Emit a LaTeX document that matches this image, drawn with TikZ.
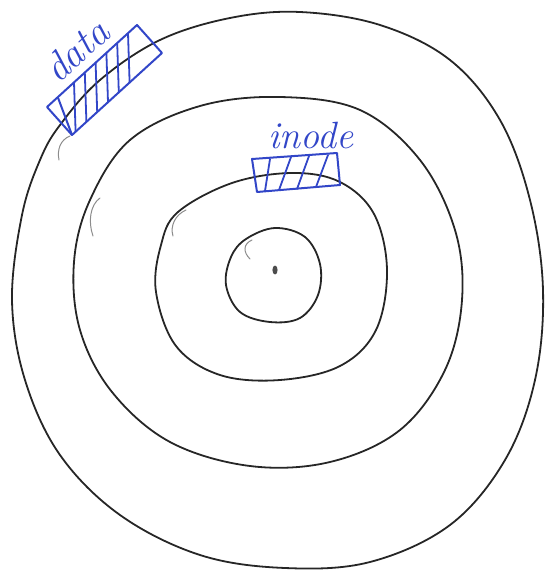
\documentclass[tikz,border=0pt]{standalone}
\usetikzlibrary{calc}
\definecolor{pen}{RGB}{50,70,200}
\tikzset{
  ring/.style={draw=black!85, line width=1.8pt, line join=round},
  hook/.style={draw=black!45, line width=1pt, line cap=round},
  bluebox/.style={draw=pen, line width=2pt, line join=round},
  hatch/.style={draw=pen, line width=1.8pt, line cap=round},
  label/.style={text=pen, font=\fontsize{40}{42}\selectfont\itshape, inner sep=0pt}
}
\begin{document}
\begin{tikzpicture}[x=1pt,y=-1pt]
\useasboundingbox (0,0) rectangle (553,575);
% outer ring
\draw[ring] plot[smooth cycle, tension=0.6] coordinates {
 (60,125) (100,80) (160,40) (230,18) (300,12) (380,25) (450,60) (500,120)
 (530,200) (543,290) (535,380) (505,460) (450,525) (370,562) (285,568)
 (200,555) (120,515) (60,455) (25,380) (12,300) (22,215) (40,160)};
% second ring
\draw[ring] plot[smooth cycle, tension=0.6] coordinates {
 (90,200) (130,140) (200,106) (280,97) (360,110) (420,160) (455,230)
 (462,300) (445,370) (400,430) (330,462) (250,466) (170,442) (112,392)
 (80,330) (74,262)};
% third ring
\draw[ring] plot[smooth cycle, tension=0.6] coordinates {
 (178,212) (232,183) (292,173) (340,182) (374,214) (387,270) (376,330)
 (340,366) (280,380) (220,375) (176,346) (156,292) (161,245)};
% inner ring
\draw[ring] plot[smooth cycle, tension=0.6] coordinates {
 (246,239) (275,228) (305,237) (320,264) (318,295) (300,318) (270,322)
 (240,312) (226,285) (231,257)};
% centre spindle
\fill[black!70] (275,270) ellipse (2.6 and 4.5);
% small hooks
\draw[hook] (70,136) .. controls (60,140) and (57,150) .. (59,160);
\draw[hook] (100,198) .. controls (90,205) and (88,222) .. (93,236);
\draw[hook] (186,210) .. controls (175,215) and (170,226) .. (173,236);
\draw[hook] (252,240) .. controls (243,244) and (243,252) .. (250,259);
% data block
\coordinate (dA) at (47,107);
\coordinate (dB) at (137,25);
\coordinate (dC) at (162,53);
\coordinate (dD) at (72,135);
\draw[bluebox] (dA) -- (dB) -- (dC) -- (dD) -- cycle;
\draw[bluebox] ($(dA)!0.12!(dB)$) -- ($(dD)!0.0!(dC)$);
\foreach \t in {0.30,0.42,0.54,0.66,0.78,0.90}{
  \draw[hatch] ($(dA)!\t!(dB)$) -- ($(dD)!{\t-0.26}!(dC)$);
}
\node[label, rotate=42] (data) at (76,50) {data};
% inode block
\coordinate (iA) at (252,159);
\coordinate (iB) at (337,153);
\coordinate (iC) at (340,185);
\coordinate (iD) at (257,192);
\draw[bluebox] (iA) -- (iB) -- (iC) -- (iD) -- cycle;
\draw[hatch] (265,191) -- (270,159);
\draw[hatch] (279,190) -- (291,157);
\draw[hatch] (297,189) -- (309,156);
\draw[hatch] (316,187) -- (328,155);
\node[label, font=\fontsize{38}{40}\selectfont\itshape, anchor=base west] (inode) at (268,148) {inode};
\end{tikzpicture}
\end{document}
